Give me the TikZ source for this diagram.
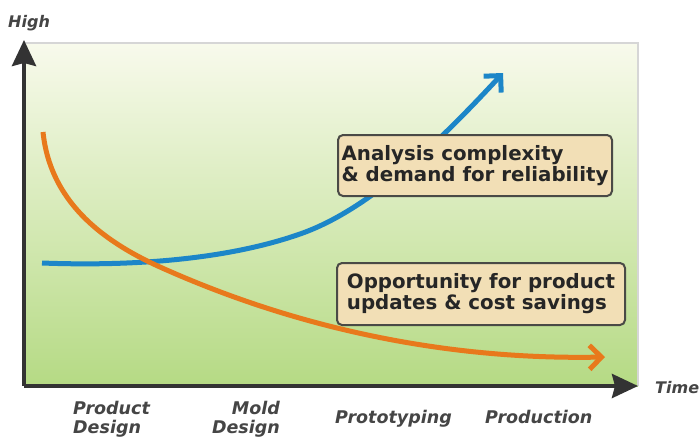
\documentclass[tikz,border=0pt]{standalone}
\usepackage{fontspec}
\setmainfont{DejaVu Sans}
\usetikzlibrary{arrows.meta,positioning}

\definecolor{curveorange}{HTML}{E8791C}
\definecolor{curveblue}{HTML}{1C86C8}
\definecolor{boxfill}{HTML}{F2DFB6}
\definecolor{boxline}{HTML}{4A4A46}
\definecolor{axisgray}{HTML}{333333}
\definecolor{labelgray}{HTML}{454545}
\definecolor{greentop}{HTML}{F8FAEC}
\definecolor{greenbottom}{HTML}{B5DA84}
\definecolor{framegray}{HTML}{D6D6D6}

\tikzset{
    axis/.style={line width=4pt, draw=axisgray, -{Stealth[length=26pt,width=24pt,inset=3pt]}},
    trend/.style={line width=5pt, -{Straight Barb[length=12pt,width=24pt]}},
    notebox/.style={draw=boxline, line width=2pt, fill=boxfill, rounded corners=5pt,
        align=left, inner sep=0pt, text=black!85, font=\bfseries\fontsize{19.8}{21}\selectfont},
    axislabel/.style={inner sep=0pt, text=labelgray, font=\bfseries\itshape\fontsize{17.5}{19}\selectfont}
}

\begin{document}
\begin{tikzpicture}[x=1pt, y=-1pt]
    \useasboundingbox (0,0) rectangle (699,437);

    \shade[top color=greentop, bottom color=greenbottom] (24,43) rectangle (638,386);
    \draw[framegray, line width=1.5pt] (24,43) -- (638,43) -- (638,386);

    \coordinate (anastart) at (42,263);
    \coordinate (anaend) at (503,73);
    \coordinate (oppstart) at (43,132);
    \coordinate (oppend) at (605,357);

    \draw[trend, curveblue] (anastart) .. controls (120,266) and (220,262) .. (300,234)
        .. controls (375,208) and (450,130) .. (anaend);
    \draw[trend, curveorange] (oppstart) .. controls (50,200) and (100,240) .. (160,267)
        .. controls (300,330) and (450,360) .. (oppend);

    \node[notebox, minimum width=274pt, minimum height=61pt] (analysis) at (475,165.5)
        {Analysis complexity\\\& demand for reliability};
    \node[notebox, minimum width=288pt, minimum height=62pt] (opportunity) at (481,294)
        {Opportunity for product\\updates \& cost savings};

    \coordinate (origin) at (24,386);
    \coordinate (ytip) at (24,40);
    \coordinate (xtip) at (638,386);
    \draw[axis] (origin) -- (ytip);
    \draw[axis] (origin) -- (xtip);

    \node[axislabel, anchor=base west, font=\bfseries\itshape\fontsize{16}{19}\selectfont] (high) at (8,27) {High};
    \node[axislabel, anchor=base west, font=\bfseries\itshape\fontsize{16}{19}\selectfont] (time) at (655,393) {Time};

    \node[axislabel, anchor=north west, align=left] (productdesign) at (73,401) {Product\\Design};
    \node[axislabel, anchor=north east, align=right] (molddesign) at (280,401) {Mold\\Design};
    \node[axislabel, anchor=base west] (prototyping) at (335,423) {Prototyping};
    \node[axislabel, anchor=base west] (production) at (485,423) {Production};
\end{tikzpicture}
\end{document}
